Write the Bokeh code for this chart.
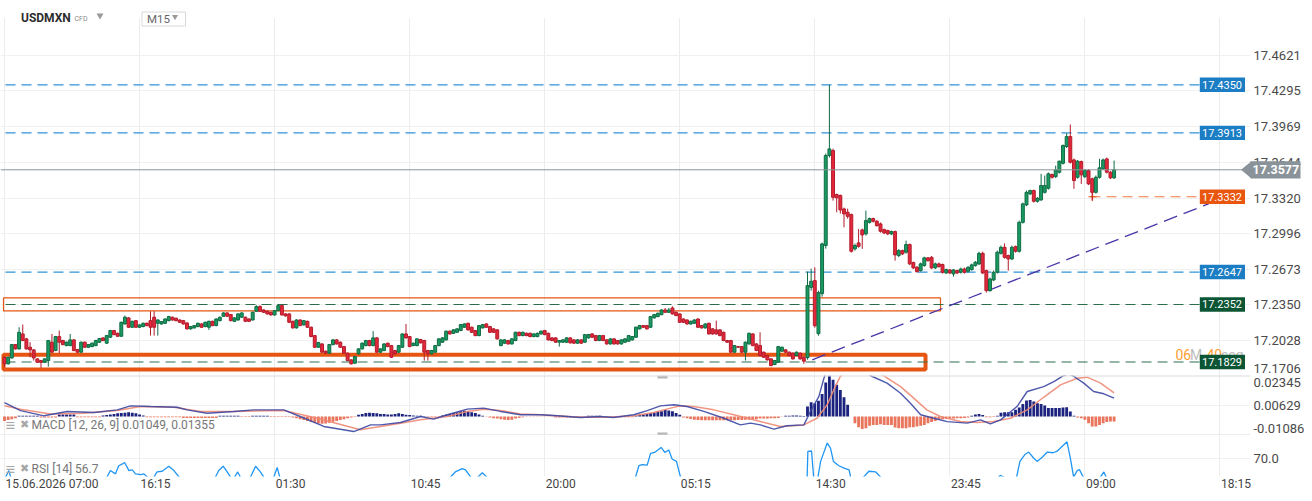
from bokeh.plotting import figure
from bokeh.layouts import column
from bokeh.models import Range1d, FixedTicker, CustomJSTickFormatter, ColumnDataSource, Span
from bokeh.embed import file_html
from bokeh.resources import INLINE
from bokeh.core.properties import value

FONT = "Roboto"

# ---------------- data ----------------
symbol = "USDMXN"
timeframe = "M15"
time_labels = ["15.06.2026 07:00", "16:15", "01:30", "10:45", "20:00", "05:15", "14:30", "23:45", "09:00", "18:15"]
bars_per_label = 37
price_ticks = [17.1706, 17.2028, 17.2350, 17.2673, 17.2996, 17.3320, 17.3644, 17.3969, 17.4295, 17.4621]
macd_tick_labels = ["-0.01086", "0.00629", "0.02345"]
rsi_tick_labels = ["70.0"]

open_ = [
    17.1872, 17.1812, 17.1866, 17.1987, 17.1948, 17.2084, 17.2039, 17.1963, 17.1939, 17.1857,
    17.1842, 17.1827, 17.1842, 17.2009, 17.1933, 17.2060, 17.2024, 17.1978, 17.1978, 17.2030,
    17.1942, 17.1918, 17.2009, 17.1963, 17.1969, 17.1978, 17.2009, 17.2048, 17.2000, 17.2054,
    17.2115, 17.2090, 17.2063, 17.2175, 17.2230, 17.2145, 17.2205, 17.2145, 17.2151, 17.2181,
    17.2205, 17.2236, 17.2181, 17.2175, 17.2181, 17.2205, 17.2236, 17.2227, 17.2211, 17.2205,
    17.2184, 17.2130, 17.2139, 17.2151, 17.2175, 17.2151, 17.2145, 17.2199, 17.2160, 17.2205,
    17.2245, 17.2275, 17.2260, 17.2199, 17.2211, 17.2236, 17.2236, 17.2220, 17.2211, 17.2290,
    17.2333, 17.2302, 17.2290, 17.2281, 17.2257, 17.2296, 17.2342, 17.2266, 17.2266, 17.2199,
    17.2139, 17.2211, 17.2166, 17.2199, 17.2145, 17.2069, 17.1963, 17.1993, 17.1927, 17.1909,
    17.1987, 17.2030, 17.2009, 17.1969, 17.1909, 17.1848, 17.1818, 17.1903, 17.1948, 17.1978,
    17.2024, 17.1978, 17.2048, 17.1918, 17.1933, 17.2000, 17.1978, 17.1933, 17.1918, 17.1963,
    17.2084, 17.2060, 17.1978, 17.1978, 17.2033, 17.2024, 17.1933, 17.1903, 17.1918, 17.1978,
    17.2009, 17.2030, 17.2109, 17.2090, 17.2099, 17.2115, 17.2145, 17.2181, 17.2145, 17.2115,
    17.2069, 17.2139, 17.2175, 17.2151, 17.2130, 17.2121, 17.1978, 17.2000, 17.2024, 17.1993,
    17.2024, 17.2099, 17.2069, 17.2090, 17.2090, 17.2060, 17.2060, 17.2084, 17.2115, 17.2090,
    17.2048, 17.2048, 17.2009, 17.2009, 17.2009, 17.2048, 17.2030, 17.2000, 17.2030, 17.2009,
    17.2048, 17.2084, 17.2069, 17.2024, 17.2069, 17.2030, 17.1993, 17.2039, 17.2024, 17.1993,
    17.2009, 17.2018, 17.2030, 17.2054, 17.2130, 17.2160, 17.2160, 17.2145, 17.2230, 17.2242,
    17.2260, 17.2302, 17.2281, 17.2320, 17.2281, 17.2266, 17.2220, 17.2211, 17.2175, 17.2181,
    17.2220, 17.2160, 17.2139, 17.2181, 17.2130, 17.2121, 17.2121, 17.2099, 17.2024, 17.2024,
    17.1918, 17.1969, 17.1969, 17.1918, 17.1993, 17.2084, 17.1993, 17.1978, 17.1918, 17.1887,
    17.1857, 17.1806, 17.1827, 17.1927, 17.1939, 17.1918, 17.1909, 17.1887, 17.1909, 17.1872,
    17.1868, 17.2508, 17.2569, 17.2087, 17.2451, 17.2888, 17.3707, 17.3752, 17.3352, 17.3343,
    17.3221, 17.3191, 17.3170, 17.2858, 17.2912, 17.3030, 17.2994, 17.3099, 17.3133, 17.3109,
    17.3085, 17.3033, 17.3024, 17.2994, 17.3015, 17.2797, 17.2842, 17.2827, 17.2897, 17.2733,
    17.2690, 17.2660, 17.2706, 17.2776, 17.2781, 17.2685, 17.2721, 17.2715, 17.2639, 17.2666,
    17.2630, 17.2660, 17.2645, 17.2675, 17.2654, 17.2669, 17.2706, 17.2721, 17.2817, 17.2660,
    17.2478, 17.2575, 17.2645, 17.2817, 17.2872, 17.2797, 17.2766, 17.2878, 17.2836, 17.3099,
    17.3258, 17.3358, 17.3388, 17.3291, 17.3304, 17.3372, 17.3409, 17.3534, 17.3515, 17.3555,
    17.3636, 17.3789, 17.3879, 17.3667, 17.3509, 17.3652, 17.3515, 17.3570, 17.3495, 17.3372,
    17.3509, 17.3586, 17.3676, 17.3555, 17.3504,
]
high = [
    17.1878, 17.1878, 17.1993, 17.1993, 17.2145, 17.2169, 17.2048, 17.2009, 17.1945, 17.1863,
    17.1848, 17.1863, 17.2030, 17.2084, 17.2066, 17.2115, 17.2030, 17.2015, 17.2084, 17.2036,
    17.1948, 17.2015, 17.2015, 17.1993, 17.2006, 17.2030, 17.2048, 17.2054, 17.2075, 17.2121,
    17.2121, 17.2096, 17.2196, 17.2251, 17.2236, 17.2205, 17.2211, 17.2172, 17.2187, 17.2187,
    17.2290, 17.2290, 17.2217, 17.2202, 17.2226, 17.2248, 17.2242, 17.2233, 17.2217, 17.2211,
    17.2190, 17.2157, 17.2166, 17.2187, 17.2181, 17.2196, 17.2205, 17.2205, 17.2226, 17.2242,
    17.2281, 17.2281, 17.2266, 17.2236, 17.2272, 17.2281, 17.2242, 17.2226, 17.2287, 17.2345,
    17.2345, 17.2308, 17.2296, 17.2287, 17.2302, 17.2357, 17.2348, 17.2272, 17.2272, 17.2205,
    17.2217, 17.2217, 17.2211, 17.2205, 17.2151, 17.2075, 17.2012, 17.1999, 17.1933, 17.1993,
    17.2036, 17.2036, 17.2015, 17.1975, 17.1915, 17.1854, 17.1884, 17.1954, 17.2006, 17.2030,
    17.2030, 17.2109, 17.2054, 17.1954, 17.1999, 17.2006, 17.1984, 17.1939, 17.1984, 17.2090,
    17.2175, 17.2066, 17.2006, 17.2045, 17.2039, 17.2030, 17.1939, 17.1939, 17.1984, 17.2045,
    17.2054, 17.2115, 17.2115, 17.2127, 17.2136, 17.2175, 17.2181, 17.2187, 17.2151, 17.2121,
    17.2166, 17.2175, 17.2181, 17.2157, 17.2136, 17.2127, 17.2036, 17.2036, 17.2030, 17.2045,
    17.2105, 17.2105, 17.2105, 17.2096, 17.2096, 17.2090, 17.2096, 17.2115, 17.2121, 17.2096,
    17.2054, 17.2054, 17.2030, 17.2036, 17.2054, 17.2054, 17.2036, 17.2036, 17.2036, 17.2084,
    17.2084, 17.2090, 17.2075, 17.2075, 17.2075, 17.2036, 17.2045, 17.2045, 17.2030, 17.2036,
    17.2045, 17.2075, 17.2066, 17.2151, 17.2166, 17.2166, 17.2166, 17.2248, 17.2266, 17.2278,
    17.2308, 17.2320, 17.2320, 17.2335, 17.2287, 17.2272, 17.2226, 17.2217, 17.2205, 17.2217,
    17.2226, 17.2166, 17.2181, 17.2187, 17.2136, 17.2205, 17.2127, 17.2105, 17.2030, 17.2030,
    17.1984, 17.1975, 17.1975, 17.2015, 17.2096, 17.2090, 17.1999, 17.2099, 17.1924, 17.1893,
    17.1863, 17.1848, 17.1975, 17.1969, 17.1945, 17.1924, 17.1915, 17.1924, 17.1915, 17.1878,
    17.2651, 17.2678, 17.2690, 17.2478, 17.2915, 17.3725, 17.4350, 17.3770, 17.3361, 17.3352,
    17.3233, 17.3224, 17.3179, 17.2906, 17.3039, 17.3042, 17.3206, 17.3142, 17.3142, 17.3120,
    17.3097, 17.3042, 17.3033, 17.3024, 17.3024, 17.2856, 17.2851, 17.2933, 17.2906, 17.2742,
    17.2701, 17.2733, 17.2787, 17.2783, 17.2792, 17.2733, 17.2733, 17.2724, 17.2678, 17.2674,
    17.2674, 17.2669, 17.2687, 17.2687, 17.2701, 17.2724, 17.2747, 17.2833, 17.2833, 17.2669,
    17.2596, 17.2660, 17.2842, 17.2888, 17.2908, 17.2806, 17.2888, 17.2888, 17.3115, 17.3279,
    17.3388, 17.3397, 17.3397, 17.3329, 17.3540, 17.3525, 17.3552, 17.3543, 17.3615, 17.3661,
    17.3807, 17.3909, 17.3989, 17.3679, 17.3666, 17.3661, 17.3584, 17.3584, 17.3506, 17.3525,
    17.3677, 17.3679, 17.3688, 17.3565, 17.3661,
]
low = [
    17.1781, 17.1806, 17.1860, 17.1942, 17.1942, 17.2018, 17.1942, 17.1872, 17.1842, 17.1821,
    17.1775, 17.1821, 17.1787, 17.1912, 17.1927, 17.1909, 17.1981, 17.1972, 17.1972, 17.1927,
    17.1912, 17.1912, 17.1957, 17.1957, 17.1963, 17.1972, 17.2003, 17.2018, 17.1994, 17.2048,
    17.2072, 17.2057, 17.2057, 17.2169, 17.2139, 17.2139, 17.2139, 17.2139, 17.2145, 17.2154,
    17.2069, 17.2069, 17.2069, 17.2169, 17.2175, 17.2199, 17.2205, 17.2199, 17.2184, 17.2169,
    17.2124, 17.2124, 17.2133, 17.2145, 17.2139, 17.2145, 17.2121, 17.2154, 17.2154, 17.2199,
    17.2239, 17.2239, 17.2199, 17.2193, 17.2205, 17.2230, 17.2193, 17.2193, 17.2205, 17.2284,
    17.2284, 17.2275, 17.2260, 17.2251, 17.2251, 17.2290, 17.2251, 17.2242, 17.2184, 17.2133,
    17.2133, 17.2154, 17.2160, 17.2139, 17.2054, 17.1957, 17.1957, 17.1912, 17.1903, 17.1903,
    17.1981, 17.1987, 17.1957, 17.1903, 17.1836, 17.1806, 17.1812, 17.1897, 17.1942, 17.1972,
    17.1972, 17.1972, 17.1912, 17.1912, 17.1927, 17.1963, 17.1866, 17.1897, 17.1912, 17.1957,
    17.2042, 17.1963, 17.1972, 17.1972, 17.1997, 17.1842, 17.1842, 17.1897, 17.1912, 17.1972,
    17.2003, 17.2024, 17.2078, 17.2084, 17.2093, 17.2109, 17.2139, 17.2115, 17.2093, 17.2063,
    17.2063, 17.2133, 17.2139, 17.2093, 17.2093, 17.2033, 17.1972, 17.1994, 17.1987, 17.1987,
    17.2018, 17.2063, 17.2063, 17.2063, 17.2054, 17.2054, 17.2054, 17.2078, 17.2072, 17.2024,
    17.2018, 17.2003, 17.1969, 17.2003, 17.2003, 17.1997, 17.1994, 17.1994, 17.1994, 17.2003,
    17.2042, 17.2048, 17.2018, 17.2018, 17.2018, 17.1987, 17.1987, 17.1987, 17.1987, 17.1987,
    17.2003, 17.2012, 17.2024, 17.2048, 17.2124, 17.2139, 17.2124, 17.2139, 17.2224, 17.2236,
    17.2254, 17.2275, 17.2275, 17.2260, 17.2245, 17.2184, 17.2184, 17.2169, 17.2169, 17.2175,
    17.2139, 17.2133, 17.2133, 17.2078, 17.2078, 17.2078, 17.2063, 17.2018, 17.2003, 17.1912,
    17.1912, 17.1957, 17.1912, 17.1842, 17.1987, 17.1972, 17.1927, 17.1881, 17.1866, 17.1842,
    17.1790, 17.1800, 17.1821, 17.1921, 17.1912, 17.1881, 17.1851, 17.1881, 17.1851, 17.1812,
    17.1850, 17.2478, 17.2141, 17.2068, 17.2423, 17.2860, 17.3688, 17.3297, 17.3191, 17.3179,
    17.3054, 17.3133, 17.2824, 17.2842, 17.2869, 17.2858, 17.2979, 17.3088, 17.3097, 17.3060,
    17.3006, 17.2992, 17.2983, 17.2983, 17.2751, 17.2783, 17.2801, 17.2815, 17.2710, 17.2674,
    17.2642, 17.2651, 17.2696, 17.2742, 17.2674, 17.2674, 17.2687, 17.2633, 17.2628, 17.2628,
    17.2605, 17.2628, 17.2633, 17.2633, 17.2642, 17.2660, 17.2696, 17.2710, 17.2628, 17.2460,
    17.2469, 17.2564, 17.2633, 17.2806, 17.2769, 17.2660, 17.2755, 17.2824, 17.2824, 17.3088,
    17.3247, 17.3347, 17.3279, 17.3279, 17.3293, 17.3361, 17.3397, 17.3497, 17.3502, 17.3543,
    17.3625, 17.3775, 17.3634, 17.3404, 17.3497, 17.3449, 17.3502, 17.3438, 17.3297, 17.3361,
    17.3497, 17.3575, 17.3543, 17.3493, 17.3493,
]
close = [
    17.1812, 17.1872, 17.1987, 17.1948, 17.2099, 17.2024, 17.1948, 17.1939, 17.1866, 17.1827,
    17.1827, 17.1857, 17.2024, 17.1918, 17.2060, 17.2009, 17.1987, 17.2009, 17.2030, 17.1933,
    17.1918, 17.2009, 17.1963, 17.1987, 17.2000, 17.2024, 17.2042, 17.2024, 17.2069, 17.2115,
    17.2078, 17.2063, 17.2190, 17.2236, 17.2145, 17.2199, 17.2145, 17.2166, 17.2181, 17.2160,
    17.2145, 17.2145, 17.2211, 17.2196, 17.2220, 17.2242, 17.2211, 17.2205, 17.2190, 17.2175,
    17.2130, 17.2151, 17.2160, 17.2181, 17.2145, 17.2190, 17.2199, 17.2160, 17.2220, 17.2236,
    17.2275, 17.2245, 17.2205, 17.2230, 17.2266, 17.2275, 17.2199, 17.2199, 17.2281, 17.2333,
    17.2290, 17.2281, 17.2266, 17.2257, 17.2296, 17.2342, 17.2257, 17.2248, 17.2190, 17.2139,
    17.2211, 17.2160, 17.2205, 17.2145, 17.2060, 17.1963, 17.2006, 17.1918, 17.1909, 17.1987,
    17.2030, 17.1993, 17.1963, 17.1909, 17.1842, 17.1812, 17.1878, 17.1948, 17.2000, 17.2024,
    17.1978, 17.2048, 17.1918, 17.1948, 17.1993, 17.1969, 17.1872, 17.1903, 17.1978, 17.2084,
    17.2048, 17.1969, 17.2000, 17.2039, 17.2003, 17.1918, 17.1903, 17.1933, 17.1978, 17.2039,
    17.2048, 17.2109, 17.2084, 17.2121, 17.2130, 17.2169, 17.2175, 17.2121, 17.2099, 17.2069,
    17.2160, 17.2169, 17.2145, 17.2099, 17.2099, 17.2039, 17.2030, 17.2030, 17.1993, 17.2039,
    17.2099, 17.2069, 17.2099, 17.2069, 17.2060, 17.2084, 17.2090, 17.2109, 17.2078, 17.2030,
    17.2024, 17.2009, 17.2024, 17.2030, 17.2048, 17.2003, 17.2000, 17.2030, 17.2000, 17.2078,
    17.2078, 17.2054, 17.2024, 17.2069, 17.2024, 17.1993, 17.2039, 17.1993, 17.1993, 17.2030,
    17.2039, 17.2069, 17.2060, 17.2145, 17.2160, 17.2145, 17.2130, 17.2242, 17.2260, 17.2272,
    17.2302, 17.2281, 17.2302, 17.2266, 17.2251, 17.2190, 17.2190, 17.2175, 17.2199, 17.2211,
    17.2145, 17.2139, 17.2175, 17.2084, 17.2084, 17.2084, 17.2069, 17.2024, 17.2009, 17.1918,
    17.1978, 17.1963, 17.1918, 17.2009, 17.2090, 17.1978, 17.1933, 17.1887, 17.1872, 17.1848,
    17.1796, 17.1842, 17.1969, 17.1963, 17.1918, 17.1887, 17.1857, 17.1918, 17.1857, 17.1836,
    17.2524, 17.2563, 17.2159, 17.2460, 17.2903, 17.3707, 17.3767, 17.3327, 17.3322, 17.3212,
    17.3176, 17.3154, 17.2836, 17.2888, 17.2881, 17.2985, 17.3115, 17.3133, 17.3109, 17.3069,
    17.3018, 17.3003, 17.2994, 17.3015, 17.2803, 17.2842, 17.2812, 17.2897, 17.2721, 17.2685,
    17.2651, 17.2721, 17.2776, 17.2751, 17.2685, 17.2721, 17.2696, 17.2645, 17.2669, 17.2639,
    17.2666, 17.2639, 17.2675, 17.2645, 17.2690, 17.2712, 17.2736, 17.2817, 17.2639, 17.2478,
    17.2584, 17.2645, 17.2827, 17.2872, 17.2781, 17.2766, 17.2872, 17.2836, 17.3099, 17.3267,
    17.3372, 17.3388, 17.3291, 17.3318, 17.3434, 17.3434, 17.3540, 17.3509, 17.3576, 17.3655,
    17.3798, 17.3879, 17.3646, 17.3479, 17.3655, 17.3531, 17.3570, 17.3449, 17.3372, 17.3509,
    17.3595, 17.3667, 17.3555, 17.3504, 17.3577,
]

macd_hist = [
    -0.0025, -0.0020, -0.0015, -0.0010, 0.0005, 0.0005, 0.0005, 0.0005, 0.0005, 0.0005,
    -0.0005, -0.0005, -0.0005, -0.0005, -0.0005, 0.0012, 0.0012, 0.0012, 0.0012, 0.0012,
    -0.0004, -0.0004, -0.0004, -0.0004, -0.0004, -0.0004, -0.0004, 0.0006, 0.0008, 0.0012,
    0.0015, 0.0018, 0.0020, 0.0022, 0.0025, 0.0022, 0.0018, 0.0012, 0.0006, -0.0004,
    -0.0004, -0.0004, -0.0004, -0.0004, -0.0004, -0.0004, -0.0004, -0.0004, -0.0004, -0.0008,
    -0.0008, -0.0008, -0.0008, -0.0008, -0.0008, -0.0008, -0.0008, -0.0008, -0.0008, 0.0004,
    0.0004, 0.0004, 0.0004, 0.0004, 0.0004, -0.0003, -0.0003, -0.0003, 0.0004, 0.0004,
    0.0004, 0.0004, 0.0004, -0.0003, -0.0003, -0.0003, -0.0003, -0.0003, -0.0003, -0.0005,
    -0.0010, -0.0015, -0.0020, -0.0025, -0.0030, -0.0035, -0.0040, -0.0042, -0.0040, -0.0035,
    -0.0030, -0.0025, -0.0020, -0.0015, -0.0010, -0.0006, -0.0003, 0.0010, 0.0015, 0.0020,
    0.0022, 0.0020, 0.0018, 0.0015, 0.0015, 0.0012, 0.0012, 0.0015, 0.0018, 0.0015,
    0.0010, 0.0008, 0.0006, 0.0004, 0.0004, 0.0002, -0.0004, -0.0004, -0.0004, -0.0004,
    0.0006, 0.0010, 0.0015, 0.0020, 0.0025, 0.0030, 0.0033, 0.0030, 0.0025, 0.0020,
    0.0012, 0.0005, -0.0002, -0.0005, -0.0010, -0.0012, -0.0015, -0.0018, -0.0020, -0.0018,
    -0.0012, -0.0008, -0.0004, -0.0002, -0.0002, -0.0002, -0.0002, -0.0002, -0.0002, -0.0002,
    -0.0002, -0.0005, -0.0005, -0.0005, -0.0005, -0.0005, -0.0005, -0.0003, -0.0003, -0.0003,
    0.0005, 0.0005, 0.0005, 0.0005, 0.0001, -0.0004, -0.0004, -0.0004, -0.0004, -0.0004,
    -0.0004, -0.0004, -0.0004, 0.0005, 0.0010, 0.0013, 0.0016, 0.0020, 0.0025, 0.0028,
    0.0030, 0.0038, 0.0035, 0.0030, 0.0020, 0.0010, -0.0006, -0.0010, -0.0014, -0.0018,
    -0.0020, -0.0022, -0.0022, -0.0022, -0.0022, -0.0022, -0.0022, -0.0022, -0.0022, -0.0022,
    -0.0022, -0.0020, -0.0020, -0.0018, -0.0018, -0.0015, -0.0015, -0.0012, -0.0012, -0.0012,
    -0.0010, -0.0010, -0.0008, -0.0002, 0.0004, 0.0004, 0.0006, 0.0006, 0.0004, 0.0003,
    0.0057, 0.0082, 0.0076, 0.0090, 0.0129, 0.0194, 0.0250, 0.0210, 0.0181, 0.0152,
    0.0110, 0.0067, 0.0000, -0.0038, -0.0061, -0.0072, -0.0067, -0.0053, -0.0048, -0.0048,
    -0.0044, -0.0048, -0.0048, -0.0048, -0.0063, -0.0067, -0.0067, -0.0067, -0.0061, -0.0061,
    -0.0057, -0.0053, -0.0048, -0.0038, -0.0032, -0.0025, -0.0019, -0.0015, -0.0013, -0.0012,
    -0.0012, -0.0010, -0.0010, -0.0008, -0.0005, 0.0004, 0.0012, 0.0015, 0.0008, -0.0004,
    -0.0004, -0.0003, 0.0004, 0.0022, 0.0025, 0.0025, 0.0025, 0.0038, 0.0051, 0.0072,
    0.0092, 0.0095, 0.0086, 0.0076, 0.0071, 0.0063, 0.0048, 0.0048, 0.0048, 0.0048,
    0.0051, 0.0053, 0.0029, 0.0004, -0.0006, -0.0010, -0.0019, -0.0038, -0.0057, -0.0057,
    -0.0048, -0.0038, -0.0032, -0.0029, -0.0029,
]

# MACD / signal / RSI lines read at (bar, value) vertices
macd_points = [
    (0, 0.0080), (4.4, 0.0034), (10.8, 0.0004), (17.2, 0.0029), (24.5, 0.0023), (30.9, 0.0038),
    (34.5, 0.0061), (40, 0.0057), (47.3, 0.0053), (50, 0.0038), (55.5, 0.0019), (62.8, 0.0029),
    (68.3, 0.0038), (76.5, 0.0038), (81, 0.0000), (87.5, -0.0057), (95.7, -0.0086), (100.3, -0.0048),
    (103, -0.0048), (108.5, -0.0034), (114, 0.0000), (117.6, -0.0015), (121.3, 0.0010), (126.8, 0.0042),
    (131.3, 0.0048), (135.9, 0.0029), (141.4, 0.0010), (146.8, 0.0010), (151.4, 0.0004), (157.8, -0.0006),
    (163.3, 0.0000), (166.9, -0.0006), (172.4, 0.0010), (176.1, 0.0034), (179.7, 0.0061), (183.4, 0.0067),
    (187, 0.0057), (191.6, 0.0029), (197.1, -0.0010), (201.6, -0.0048), (204.4, -0.0038), (207.1, -0.0048),
    (210.8, -0.0072), (214.4, -0.0053), (219, -0.0048), (220.8, 0.0029), (223.1, 0.0114), (224.5, 0.0219),
    (226, 0.0300), (228, 0.0360), (230, 0.0370), (233, 0.0320), (237.3, 0.0233), (241.8, 0.0191),
    (245.5, 0.0133), (248.2, 0.0076), (251, 0.0010), (254.6, -0.0010), (258.3, -0.0029), (263.8, -0.0038),
    (267.4, -0.0019), (270.1, -0.0042), (272.9, -0.0019), (277.4, 0.0057), (280.2, 0.0143), (284.7, 0.0171),
    (287.5, 0.0200), (289.8, 0.0229), (291.5, 0.0245), (293, 0.0229), (295.7, 0.0191), (298.4, 0.0143),
    (301.2, 0.0130), (304, 0.01049),
]
signal_points = [
    (0, 0.0061), (4.4, 0.0042), (12.6, 0.0015), (21.7, 0.0019), (30.9, 0.0034), (37.2, 0.0057),
    (46.4, 0.0053), (53.7, 0.0029), (62.8, 0.0029), (76.5, 0.0034), (85.7, -0.0010), (97.5, -0.0076),
    (103, -0.0057), (108.5, -0.0038), (114, -0.0019), (121.3, 0.0000), (126.8, 0.0029), (131.3, 0.0042),
    (135.9, 0.0034), (141.4, 0.0015), (146.8, 0.0010), (151.4, 0.0004), (157.8, -0.0004), (165.1, -0.0004),
    (172.4, 0.0004), (177.9, 0.0023), (182.5, 0.0048), (185.2, 0.0061), (188.8, 0.0057), (194.3, 0.0038),
    (199.8, 0.0010), (207.1, -0.0029), (212.6, -0.0057), (219, -0.0048), (222.6, -0.0010), (225.4, 0.0067),
    (227.6, 0.0171), (229, 0.0229), (232, 0.0290), (236, 0.0300), (240.9, 0.0233), (245.5, 0.0171),
    (249.1, 0.0105), (252.7, 0.0038), (256.4, 0.0000), (261.9, -0.0029), (266.5, -0.0034), (271, -0.0029),
    (275.6, -0.0010), (280.2, 0.0038), (284.7, 0.0110), (289.3, 0.0181), (293.9, 0.0219), (296.6, 0.0225),
    (300.3, 0.0191), (304, 0.01355),
]
rsi_points = [
    (0, 58.0), (1.2, 63.2), (2.0, 57.0), (6, 50), (15, 48), (25, 52), (28.1, 59.5), (29.0, 63.2),
    (30.4, 61.3), (31.3, 66.0), (32.2, 66.9), (32.9, 67.9), (34.1, 63.2), (35.0, 63.6), (35.9, 61.3),
    (37.3, 60.9), (38.2, 61.3), (39.1, 59.5), (40.5, 58.0), (41.8, 62.4), (43.2, 62.8), (45.0, 65.7),
    (46.4, 63.2), (47.8, 59.5), (50, 52), (55, 54), (57.8, 59.5), (58.7, 63.2), (59.9, 65.7),
    (61.0, 62.4), (61.9, 59.5), (62.6, 58.0), (63.9, 62.4), (64.6, 59.5), (66.0, 56.0), (67.4, 59.5),
    (68.8, 65.7), (70.1, 62.4), (71.0, 59.5), (72.5, 57.0), (73.8, 59.5), (74.7, 65.0), (75.4, 59.5),
    (77, 55), (85, 35), (95, 30), (105, 45), (115, 42), (121, 55), (122.2, 59.5), (123.5, 62.4),
    (125.4, 64.3), (126.3, 63.6), (127.7, 59.5), (129, 58), (130.9, 61.9), (132.1, 59.5), (134, 52),
    (140, 40), (150, 45), (160, 42), (168, 48), (172.9, 59.5), (173.8, 66.0), (174.7, 66.6),
    (176.1, 66.4), (177.0, 73.1), (178.1, 73.7), (179.0, 75.1), (179.9, 76.6), (180.9, 73.7),
    (182.0, 75.1), (182.9, 69.9), (184.1, 68.5), (185.2, 59.5), (188, 45), (195, 35), (205, 30),
    (212, 25), (218, 45), (219.9, 59.5), (220.1, 74.3), (221.1, 74.5), (221.7, 59.0), (222.5, 55.0),
    (223.6, 68.5), (225.4, 79.1), (226.3, 76.2), (227.1, 68.5), (228.6, 66.0), (230.0, 64.6),
    (231.4, 63.6), (231.8, 59.5), (233, 55), (235.4, 59.5), (236.8, 62.8), (238.7, 62.4), (240.0, 59.5),
    (242, 50), (250, 35), (260, 40), (268, 50), (272.4, 59.5), (272.8, 60.4), (273.7, 59.5), (275, 56),
    (277.3, 59.5), (278.2, 68.5), (279.5, 72.3), (280.6, 73.9), (282.0, 70.3), (282.9, 68.5),
    (284.3, 70.9), (285.7, 73.9), (287.3, 73.5), (288.4, 74.4), (289.8, 77.3), (291.1, 79.8),
    (292.0, 70.5), (292.9, 59.5), (293.9, 63.2), (294.5, 63.8), (295.3, 60.4), (296, 58), (299, 56),
    (300.3, 59.5), (301.2, 62.4), (301.8, 59.5), (303, 57), (304, 56.7),
]
macd_last, signal_last, rsi_last = 0.01049, 0.01355, 56.7

level_values = [17.4350, 17.3913, 17.2647, 17.2352, 17.1829]
level_kinds = ["blue", "blue", "blue", "green", "green"]
order_level = 17.3332
last_price = 17.3577
trend_bars = [221.3, 329.9]
trend_prices = [17.1849, 17.3268]
thin_zone = [17.2293, 17.2412]
thick_zone = [17.1761, 17.1894]
countdown = ["06", "M", "40", "seg"]

# ---------------- geometry helpers (pixel placement of annotations) ----------------
PX_PER_BAR = 3.65
X0_PX = 4.0
FRAME_W = 1250
def bx(px):
    return (px - X0_PX) / PX_PER_BAR

P_TOP, P_BOT, MAIN_H = 17.5117, 17.1706, 375
PPX = (P_TOP - P_BOT) / MAIN_H
def mp(y):
    return P_TOP - y * PPX

M_TOP, M_BOT, MACD_H = 0.02345, -0.01086, 60
MPX = (M_TOP - M_BOT) / MACD_H
def mm(y):
    return M_TOP - y * MPX

RSI_FRAME_H, RSI_AXIS_H = 41, 25
R_TOP = 83.47
RPX = 1.0 / 1.73
R_BOT = R_TOP - RSI_FRAME_H * RPX
def rr(y):
    return R_TOP - y * RPX

grid_x = [bars_per_label * k for k in range(len(time_labels))]
xr = Range1d(bx(0), bx(FRAME_W))

GREEN_FILL, GREEN_LINE = "#1a9a62", "#0f6b43"
RED_FILL, RED_LINE = "#e3283b", "#b31b2b"
BLUE, BLUE_BOX = "#2f92d8", "#1b7dc3"
DGREEN, DGREEN_BOX = "#2a6e4e", "#0b5535"
ORANGE = "#e65512"
TAG_GRAY = "#8a9399"


def base_fig(h, yr, bottom_border=0, x_axis=None):
    f = figure(width=1312, height=h, x_range=xr, y_range=yr, output_backend="svg",
               toolbar_location=None, y_axis_location="right", x_axis_location=x_axis,
               min_border_left=0, min_border_right=62, min_border_top=0,
               min_border_bottom=bottom_border, outline_line_color=None,
               background_fill_color="white", border_fill_color="white")
    f.yaxis.axis_line_color = None
    f.yaxis.major_tick_line_color = None
    f.yaxis.minor_tick_line_color = None
    f.yaxis.major_tick_out = 0
    f.yaxis.major_tick_in = 0
    f.yaxis.major_label_text_font = FONT
    f.yaxis.major_label_text_font_size = "13px"
    f.yaxis.major_label_text_color = "#4a4a4a"
    f.yaxis.major_label_standoff = 3
    f.xgrid.ticker = FixedTicker(ticks=grid_x)
    f.xgrid.grid_line_color = "#ececec"
    f.ygrid.grid_line_color = "#f0f0f0"
    return f


def names_formatter(names):
    return CustomJSTickFormatter(args=dict(names=names), code="return names[index];")


def txt(f, x, y, s, size, color, bold=False, align="left"):
    return f.text(x=[x], y=[y], text=[s], text_font=value(FONT), text_font_size=value(size),
                  text_color=color, text_align=align, text_baseline="middle",
                  text_font_style="bold" if bold else "normal")


# ---------------- main price panel ----------------
p = base_fig(MAIN_H, Range1d(P_BOT, P_TOP))
tick_pos = [mp(367.5)] + price_ticks[1:]
p.yaxis.ticker = FixedTicker(ticks=tick_pos)
p.yaxis.formatter = names_formatter([f"{v:.4f}" for v in price_ticks])
p.ygrid.ticker = FixedTicker(ticks=price_ticks[1:])

# top header strip
p.quad(left=[bx(-10)], right=[bx(1260)], top=[P_TOP + 0.002], bottom=[mp(17.5)],
       fill_color="white", line_color=None)

# zones (rectangles)
p.quad(left=[bx(3)], right=[bx(940)], top=[thin_zone[1]], bottom=[thin_zone[0]],
       fill_color=None, line_color=ORANGE, line_width=1.2)
p.quad(left=[bx(3)], right=[bx(925)], top=[thick_zone[1]], bottom=[thick_zone[0]],
       fill_color=None, line_color=ORANGE, line_width=4)

# level lines
for v, k in zip(level_values, level_kinds):
    col = BLUE if k == "blue" else DGREEN
    p.line(x=[bx(5), bx(1199)], y=[v, v], line_color=col, line_width=1.2, line_dash="10 6")
p.line(x=[bx(1090), bx(1199)], y=[order_level, order_level], line_color="#f07a45",
       line_width=1.2, line_dash="10 6")
p.scatter(x=[bx(1092)], y=[order_level], marker="cross", size=8, line_color=ORANGE, line_width=1.2)

# trend line
p.line(x=trend_bars, y=trend_prices, line_color="#4a35a8", line_width=1.3, line_dash="14 7")

# current price line
p.add_layout(Span(location=last_price, dimension="width", line_color=TAG_GRAY, line_width=1))

# candles
n = len(close)
idx = list(range(n))
up = [c >= o for o, c in zip(open_, close)]
src = ColumnDataSource(dict(
    x=idx, h=high, l=low,
    top=[max(o, c) for o, c in zip(open_, close)],
    bot=[min(o, c) for o, c in zip(open_, close)],
    fill=[GREEN_FILL if u else RED_FILL for u in up],
    line=[GREEN_LINE if u else RED_LINE for u in up],
))
p.segment(x0="x", y0="h", x1="x", y1="l", line_color="line", line_width=1, source=src)
p.vbar(x="x", width=0.8, top="top", bottom="bot", fill_color="fill", line_color="line",
       line_width=1, source=src)

# countdown text (partly under the green label)
cd_x = [1175, 1189.5, 1206, 1220.5]
cd_col = ["#ffa033", "#bdbdbd", "#ffa033", "#bdbdbd"]
for s, xx, cc in zip(countdown, cd_x, cd_col):
    txt(p, bx(xx), mp(354), s, "14px", cc)

# level value boxes
for v, k in zip(level_values + [order_level], level_kinds + ["orange"]):
    box = {"blue": BLUE_BOX, "green": DGREEN_BOX, "orange": "#e8560f"}[k]
    p.quad(left=[bx(1199.3)], right=[bx(1244.5)], top=[v + 7.2 * PPX], bottom=[v - 7.2 * PPX],
           fill_color=box, line_color=None)
    txt(p, bx(1201.5), v, f"{v:.4f}", "11px", "white")

# current price tag (drawn on overlay level so it may extend over the axis area)
r1 = p.patch(x=[bx(1240.5), bx(1251), bx(1251)],
             y=[last_price, last_price + 8.6 * PPX, last_price - 8.6 * PPX],
             fill_color=TAG_GRAY, line_color=None)
r2 = p.quad(left=[bx(1250)], right=[bx(1300)], top=[last_price + 8.6 * PPX],
            bottom=[last_price - 8.6 * PPX], fill_color=TAG_GRAY, line_color=None)
r3 = txt(p, bx(1252), last_price, f"{last_price:.4f}", "12.5px", "white", bold=True)
for r in (r1, r2, r3):
    r.level = "overlay"

# header
txt(p, bx(20.5), mp(17.5), symbol, "12px", "#2d2d2d", bold=True)
txt(p, bx(74), mp(18.5), "CFD", "7px", "#8a8a8a")
p.scatter(x=[bx(99.5)], y=[mp(15)], marker="inverted_triangle", size=7,
          fill_color="#9a9a9a", line_color=None)
p.quad(left=[bx(141.5)], right=[bx(185)], top=[mp(11.5)], bottom=[mp(25.5)],
       fill_color="white", line_color="#d8d8d8", line_width=1)
txt(p, bx(146.5), mp(18.8), timeframe, "11.5px", "#666666")
p.scatter(x=[bx(174.5)], y=[mp(16.2)], marker="inverted_triangle", size=6,
          fill_color="#9a9a9a", line_color=None)

# ---------------- MACD panel ----------------
pm = base_fig(MACD_H, Range1d(M_BOT, M_TOP))
pm.yaxis.ticker = FixedTicker(ticks=[mm(53), 0.00629, mm(7)])
pm.yaxis.formatter = names_formatter(macd_tick_labels)
pm.ygrid.ticker = FixedTicker(ticks=[0.00629])
hcol = ["#1c237e" if v >= 0 else "#e8755c" for v in macd_hist]
pm.vbar(x=list(range(len(macd_hist))), top=macd_hist, bottom=0, width=0.78,
        fill_color=hcol, line_color=None)
pm.line(x=[a for a, b in signal_points], y=[b for a, b in signal_points],
        line_color="#f08a75", line_width=1.5, line_alpha=0.9)
pm.line(x=[a for a, b in macd_points], y=[b for a, b in macd_points],
        line_color="#3c47a3", line_width=1.4, line_alpha=0.9)
pm.add_layout(Span(location=M_TOP, dimension="width", line_color="#dcdcdc", line_width=2))
pm.add_layout(Span(location=M_BOT, dimension="width", line_color="#dcdcdc", line_width=2))
for yy in (1.5, 58.5):
    pm.quad(left=[bx(657)], right=[bx(667)], top=[mm(yy - 1.5)], bottom=[mm(yy + 1.5)],
            fill_color="#b5b5b5", line_color=None)
txt(pm, bx(5), mm(49), "\u2261", "17px", "#a8a8a8", bold=True)
txt(pm, bx(19), mm(48.5), "\u2716", "11px", "#a8a8a8")
txt(pm, bx(31), mm(49), f"MACD [12, 26, 9] {macd_last:.5f}, {signal_last:.5f}", "12px", "#777777")

# ---------------- RSI panel ----------------
pr = base_fig(RSI_FRAME_H + RSI_AXIS_H, Range1d(R_BOT, R_TOP), bottom_border=RSI_AXIS_H, x_axis="below")
pr.yaxis.ticker = FixedTicker(ticks=[70.0])
pr.yaxis.formatter = names_formatter(rsi_tick_labels)
pr.ygrid.ticker = FixedTicker(ticks=[70.0])
label_w = [93] + [30] * (len(time_labels) - 1)
label_pos = [g + (1 + w / 2) / PX_PER_BAR for g, w in zip(grid_x, label_w)]
pr.xaxis.ticker = FixedTicker(ticks=label_pos)
pr.xaxis.formatter = names_formatter(time_labels)
pr.xaxis.axis_line_color = None
pr.xaxis.major_tick_line_color = None
pr.xaxis.minor_tick_line_color = None
pr.xaxis.major_tick_out = 0
pr.xaxis.major_tick_in = 0
pr.xaxis.major_label_text_font = FONT
pr.xaxis.major_label_text_font_size = "12px"
pr.xaxis.major_label_text_color = "#444444"
pr.xaxis.major_label_standoff = 0
pr.line(x=[a for a, b in rsi_points], y=[b for a, b in rsi_points],
        line_color="#2196f3", line_width=1.3)
txt(pr, bx(5), rr(33), "\u2261", "17px", "#a8a8a8", bold=True)
txt(pr, bx(19), rr(32.5), "\u2716", "11px", "#a8a8a8")
txt(pr, bx(31), rr(33), f"RSI [14] {rsi_last}", "12px", "#777777")

layout = column(p, pm, pr, spacing=0)
open("out.html", "w").write(file_html(layout, INLINE))
